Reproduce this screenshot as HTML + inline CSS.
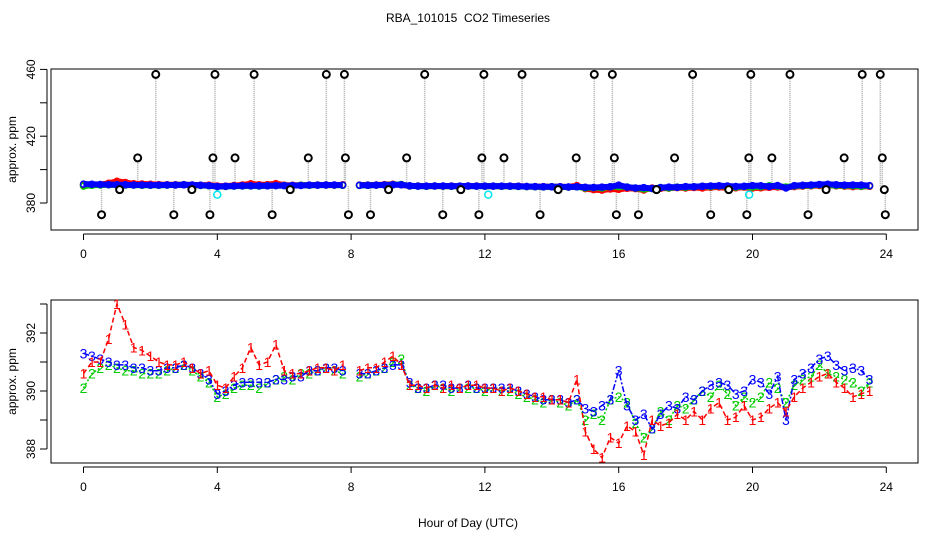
<!DOCTYPE html>
<html><head><meta charset="utf-8"><style>
body{margin:0;background:#fff}
svg{display:block;font-family:"Liberation Sans",sans-serif}
</style></head><body>
<svg id="c" width="936" height="540" viewBox="0 0 936 540" xmlns="http://www.w3.org/2000/svg">
<text x="468" y="22" font-size="12" text-anchor="middle" style="white-space:pre">RBA_101015  CO2 Timeseries</text>
<text x="468" y="527" font-size="12" text-anchor="middle">Hour of Day (UTC)</text>
<g id="topPanel"></g>
<g id="botPanel"></g>
</svg>
<script>
const series1 = [390.6,391.0,391.0,391.8,393.0,392.3,391.5,391.4,391.2,391.0,390.9,390.9,391.0,390.8,390.6,390.7,
390.2,390.1,390.5,390.8,391.5,390.9,391.0,391.6,390.7,390.6,390.6,390.7,390.8,390.8,390.7,390.9,
null,390.7,390.8,390.8,391.0,391.2,390.9,390.2,
390.2,390.1,390.2,390.1,390.2,390.1,390.2,390.2,390.1,390.1,390.0,390.1,
390.0,389.9,389.8,389.8,389.7,389.7,389.6,390.4,
388.6,388.0,387.7,388.4,388.2,388.8,388.6,387.8,389.0,388.8,388.9,389.2,389.0,389.3,389.0,389.4,
389.6,389.0,389.1,389.5,389.0,389.1,389.4,389.6,389.3,389.8,390.1,390.3,390.5,390.6,390.3,390.1,389.8,389.9,390.0];
const series2 = [390.1,390.6,390.8,390.9,390.8,390.7,390.7,390.6,390.6,390.6,390.7,390.8,390.9,390.7,390.5,390.3,
389.8,389.9,390.1,390.2,390.2,390.1,390.3,390.4,390.5,390.4,390.6,390.6,390.7,390.8,390.7,390.6,
null,390.5,390.6,390.7,390.8,391.0,391.1,390.2,
390.1,390.0,390.2,390.1,390.0,390.1,390.1,390.1,390.0,390.1,390.0,390.0,
389.9,389.8,389.7,389.6,389.7,389.6,389.5,389.7,
389.0,389.2,389.0,389.7,389.8,389.6,388.9,388.4,388.7,389.3,389.0,389.5,389.4,389.7,390.0,389.8,
390.2,389.9,389.5,389.8,389.6,389.8,390.3,390.1,389.6,390.2,390.4,390.5,390.9,390.6,390.5,390.4,390.3,390.0,390.3];
const series3 = [391.3,391.2,391.1,391.0,390.9,390.9,390.8,390.8,390.7,390.7,390.8,390.8,390.9,390.8,390.6,390.4,
389.9,390.0,390.2,390.3,390.3,390.3,390.3,390.4,390.4,390.5,390.5,390.7,390.7,390.8,390.8,390.7,
null,390.6,390.6,390.7,390.8,390.9,390.9,390.3,
390.1,390.1,390.2,390.2,390.1,390.1,390.2,390.1,390.1,390.1,390.1,390.1,
390.0,389.9,389.8,389.7,389.7,389.7,389.6,389.7,
389.4,389.3,389.5,389.7,390.7,389.5,389.0,389.2,388.7,389.2,389.5,389.4,389.8,389.7,390.0,390.2,
390.3,390.2,389.9,390.0,390.4,390.3,389.9,390.5,389.0,390.4,390.6,390.8,391.1,391.2,390.9,390.7,390.8,390.7,390.4];
const hourStep = 0.25;
const outlierHours = [0.54,1.08,1.62,2.16,2.7,3.24,3.78,3.87,3.93,4.53,5.1,5.64,6.18,6.72,7.26,7.8,7.83,7.92,8.58,9.12,9.66,10.2,10.74,11.28,11.82,11.91,11.97,12.57,13.11,13.65,14.19,14.73,15.27,15.81,15.87,15.93,16.59,17.13,17.67,18.21,18.75,19.29,19.83,19.89,19.95,20.58,21.12,21.66,22.2,22.74,23.28,23.82,23.88,23.94,23.97];
const outlierValues = [373,388,407,457,373,388,373,407,457,407,457,373,388,407,457,457,407,373,373,388,407,457,373,388,373,407,457,407,457,373,388,407,457,457,407,373,373,388,407,457,373,388,373,407,457,407,457,373,388,407,457,457,407,388,373];
const cyanHours = [4.0,12.1,19.9];
const cyanValues = [385,385,385];
const topTicks = [380,400,420,440,460];
const topLabels = ["380","420","460"];
const botTicks = [388,389,390,391,392,393];
const botLabels = ["388","390","392"];
const xTicks = [0,4,8,12,16,20,24];

const NS="http://www.w3.org/2000/svg";
function mk(parent,tag,attrs){const e=document.createElementNS(NS,tag);for(const k in attrs)e.setAttribute(k,attrs[k]);parent.appendChild(e);return e;}
const xs = h => 83.5 + h*33.45;
const yTop = v => 203 - (v-380)*1.67;
const yBot = v => 391 - (v-390)*29;
const hours = series1.map((_,i)=>i*hourStep);

function frame(g,y0,y1,ticks,labels,ys,name){
  let r=mk(g,'rect',{x:51,y:y0,width:867,height:y1-y0,fill:'none',stroke:'#000','stroke-width':1});
  
  let ax=mk(g,'line',{x1:xs(0),x2:xs(24),y1:y1+4,y2:y1+4,stroke:'#000'});
  
  xTicks.forEach(t=>{mk(g,'line',{x1:xs(t),x2:xs(t),y1:y1+4,y2:y1+10,stroke:'#000'});
    const tx=mk(g,'text',{x:xs(t),y:y1+28,'font-size':12,'text-anchor':'middle'});tx.textContent=t;
    });
  const ya=mk(g,'line',{x1:47,x2:47,y1:ys(ticks[0]),y2:ys(ticks[ticks.length-1]),stroke:'#000'});
  
  ticks.forEach(t=>mk(g,'line',{x1:40,x2:47,y1:ys(t),y2:ys(t),stroke:'#000'}));
  labels.forEach(l=>{const y=ys(+l);const tx=mk(g,'text',{x:0,y:0,'font-size':12,'text-anchor':'middle',transform:`translate(35,${y}) rotate(-90)`});tx.textContent=l;
    });
  const yt=mk(g,'text',{x:0,y:0,'font-size':12,'text-anchor':'middle',transform:`translate(16,${(y0+y1)/2}) rotate(-90)`});yt.textContent='approx. ppm';
  
}
const topG=document.getElementById('topPanel'), botG=document.getElementById('botPanel');
frame(topG,69,230,topTicks,topLabels,yTop,'top');
frame(botG,300,463,botTicks,botLabels,yBot,'bottom');

outlierHours.forEach((h,i)=>{
  const l=mk(topG,'line',{x1:xs(h),x2:xs(h),y1:yTop(390),y2:yTop(outlierValues[i]),stroke:'#aaa','stroke-width':1.5,'stroke-dasharray':'1,1'});
  
});
const cols=['#ff0000','#00cc00','#0000ff'];
[series1,series2,series3].forEach((s,k)=>{
  let d='';s.forEach((v,i)=>{if(v==null)return;d+=(d&&s[i-1]!=null?'L':'M')+xs(hours[i])+','+yTop(v);});
  const p=mk(topG,'path',{d:d,fill:'none',stroke:cols[k],'stroke-width':6});
  
  s.forEach((v,i)=>{if(v==null)return;
    const c=mk(topG,'circle',{cx:xs(hours[i]),cy:yTop(v),r:3,fill:'none',stroke:cols[k],'stroke-width':1.5});
    });
});
cyanHours.forEach((h,i)=>{const c=mk(topG,'circle',{cx:xs(h),cy:yTop(cyanValues[i]),r:3.5,fill:'none',stroke:'#00e5ee','stroke-width':1.5});
  });
outlierHours.forEach((h,i)=>{const c=mk(topG,'circle',{cx:xs(h),cy:yTop(outlierValues[i]),r:3.5,fill:'#fff',stroke:'#000','stroke-width':2});
  });

const dash=['5,3','2,2','6,2,2,2'];
[series2,series3,series1].forEach((s,kk)=>{
  const k=[1,2,0][kk];
  let d='';s.forEach((v,i)=>{if(v==null)return;d+=(d&&s[i-1]!=null?'L':'M')+xs(hours[i])+','+yBot(v);});
  const p=mk(botG,'path',{d:d,fill:'none',stroke:cols[k],'stroke-width':1.5,'stroke-dasharray':dash[k]});
  
  s.forEach((v,i)=>{if(v==null)return;
    const t=mk(botG,'text',{x:xs(hours[i]),y:yBot(v)+5,'font-size':14,'text-anchor':'middle',fill:cols[k]});
    t.textContent=String(k+1);
    });
});
</script>
</body></html>
